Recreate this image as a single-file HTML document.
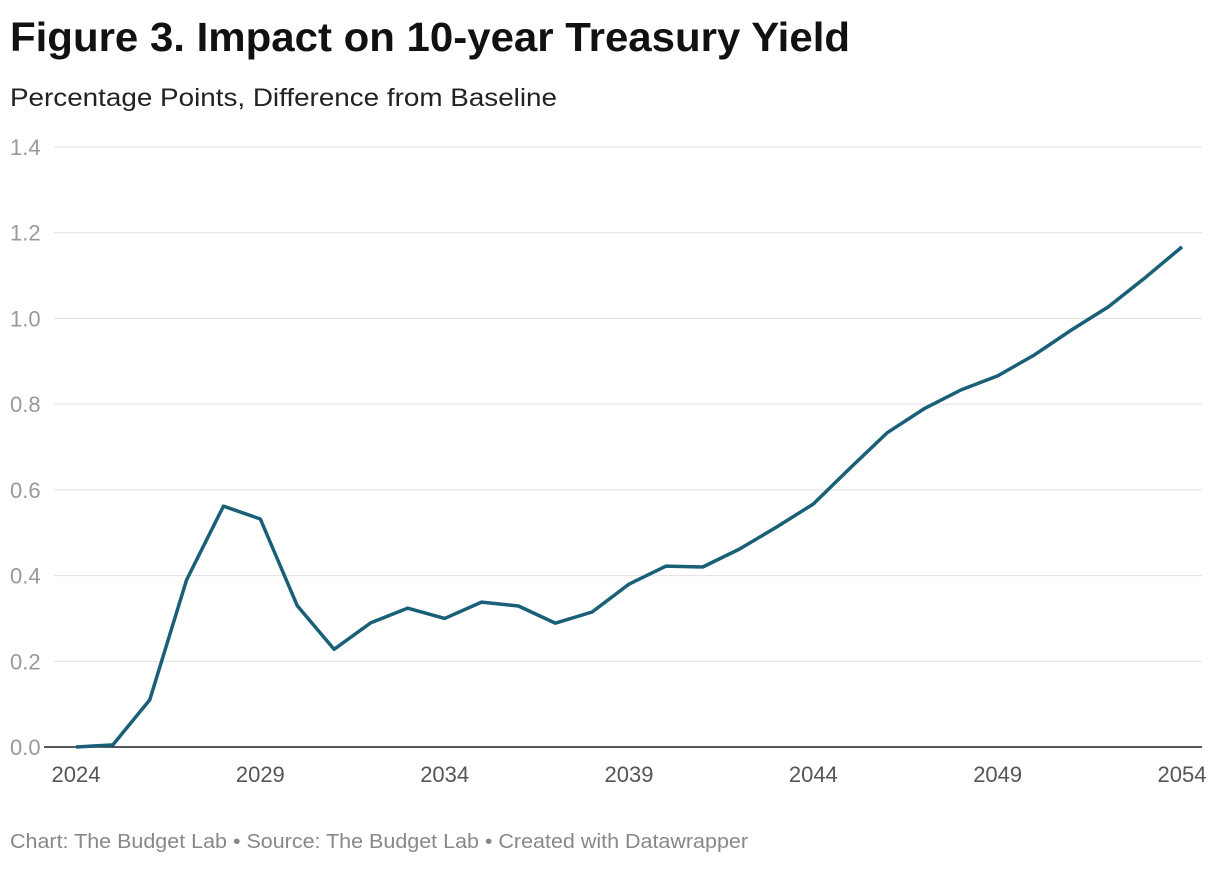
<!DOCTYPE html>
<html><head><meta charset="utf-8"><style>
body{margin:0;background:#fff;font-family:"Liberation Sans",sans-serif;}
</style></head><body>
<svg width="1220" height="864" xmlns="http://www.w3.org/2000/svg">
<text x="10" y="51" font-size="41" font-weight="bold" fill="#111" textLength="840" lengthAdjust="spacingAndGlyphs">Figure 3. Impact on 10-year Treasury Yield</text>
<text x="10" y="106" font-size="25" fill="#222" textLength="547" lengthAdjust="spacingAndGlyphs">Percentage Points, Difference from Baseline</text>
<g id="grid"></g><g id="xt"></g>
<path id="line" fill="none" stroke="#1a5f78" stroke-width="3.5" stroke-linejoin="round"/>
<text x="10" y="848" font-size="20" fill="#888" textLength="738" lengthAdjust="spacingAndGlyphs">Chart: The Budget Lab • Source: The Budget Lab • Created with Datawrapper</text>
</svg>
<script>
const years=[2024,2025,2026,2027,2028,2029,2030,2031,2032,2033,2034,2035,2036,2037,2038,2039,2040,2041,2042,2043,2044,2045,2046,2047,2048,2049,2050,2051,2052,2053,2054];
const values=[0,0.005,0.11,0.39,0.562,0.532,0.33,0.228,0.29,0.324,0.30,0.338,0.329,0.289,0.315,0.38,0.422,0.42,0.462,0.513,0.567,0.651,0.733,0.789,0.833,0.866,0.915,0.973,1.027,1.095,1.167];
const yTicks=[0,0.2,0.4,0.6,0.8,1.0,1.2,1.4];
const xTicks=[2024,2029,2034,2039,2044,2049,2054];
const NS="http://www.w3.org/2000/svg";
const x=v=>76+(v-2024)*(1182-76)/30;
const y=v=>747-v*(600/1.4);
const g=document.getElementById('grid');
yTicks.forEach(t=>{
 const l=document.createElementNS(NS,'line');
 
 
 l.setAttribute('x1',t===0?44:54);l.setAttribute('x2',1202);l.setAttribute('y1',y(t));l.setAttribute('y2',y(t));
 l.setAttribute('stroke',t===0?'#222':'#e0e0e0');l.setAttribute('stroke-width',t===0?1.5:1);
 g.appendChild(l);
 const tx=document.createElementNS(NS,'text');
 
 
 tx.setAttribute('x',10);tx.setAttribute('y',y(t)+8);tx.setAttribute('font-size','22');tx.setAttribute('fill','#999');
 tx.textContent=t.toFixed(1);g.appendChild(tx);
});
const xg=document.getElementById('xt');
xTicks.forEach(t=>{
 const tx=document.createElementNS(NS,'text');
 
 
 tx.setAttribute('x',x(t));tx.setAttribute('y',782);tx.setAttribute('font-size','22');tx.setAttribute('fill','#555');tx.setAttribute('text-anchor','middle');
 tx.textContent=t;xg.appendChild(tx);
});
document.getElementById('line').setAttribute('d',years.map((yr,i)=>(i?'L':'M')+x(yr)+','+y(values[i])).join(''));
</script>
</body></html>
